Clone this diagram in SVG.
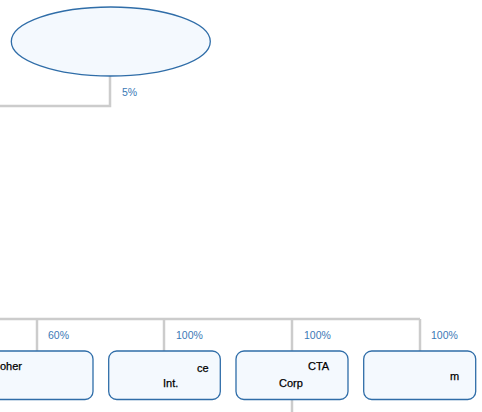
<svg xmlns="http://www.w3.org/2000/svg" width="482" height="412" viewBox="0 0 482 412">
<style>
.edge{fill:none;stroke:#cccccc;stroke-width:2.5}
.node{fill:#f4f9fe;stroke:#2f6da8;stroke-width:1.3}
.pct{font-family:"Liberation Sans",Arial,sans-serif;font-size:10.5px;fill:#3a79b6}
.lbl{font-family:"Liberation Sans",Arial,sans-serif;font-size:11px;fill:#000000;stroke:#000000;stroke-width:0.25}
</style>
<rect width="482" height="412" fill="#ffffff"/>
<g id="connectors">
<path class="edge" d="M110 76 V106 H0"/>
<path class="edge" d="M0 319 H420"/>
<path class="edge" d="M37 319 V351"/>
<path class="edge" d="M164 319 V351"/>
<path class="edge" d="M292 319 V351"/>
<path class="edge" d="M420 319 V351"/>
<path class="edge" d="M292 400 V412"/>
<text class="pct" x="122" y="96">5%</text>
<text class="pct" x="48" y="339">60%</text>
<text class="pct" x="176" y="339">100%</text>
<text class="pct" x="304" y="339">100%</text>
<text class="pct" x="431" y="339">100%</text>
</g>
<g id="top">
<ellipse class="node" cx="110.8" cy="41.5" rx="99.5" ry="34.5"/>
</g>
<g id="n1">
<rect class="node" x="-19" y="351" width="112" height="48.5" rx="8"/>
<text class="lbl" x="0" y="370">oher</text>
</g>
<g id="n2">
<rect class="node" x="108.7" y="351" width="111.6" height="48.5" rx="8"/>
<text class="lbl" x="197" y="372">ce</text>
<text class="lbl" x="163" y="387">Int.</text>
</g>
<g id="n3">
<rect class="node" x="236" y="351" width="112" height="48.5" rx="8"/>
<text class="lbl" x="308" y="370">CTA</text>
<text class="lbl" x="279" y="387">Corp</text>
</g>
<g id="n4">
<rect class="node" x="363.7" y="351" width="112" height="48.5" rx="8"/>
<text class="lbl" x="450" y="380">m</text>
</g>
</svg>
